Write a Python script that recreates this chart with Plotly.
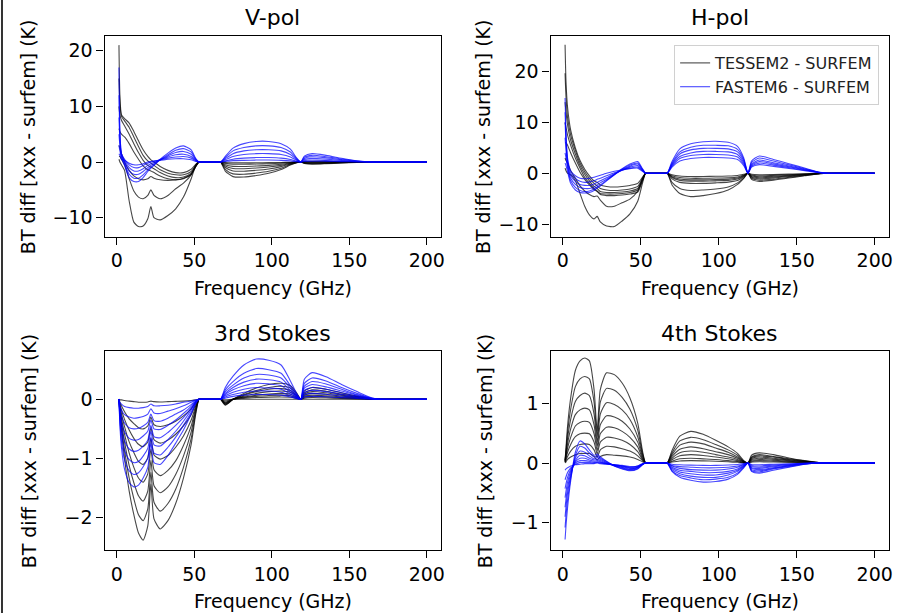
import plotly.graph_objects as go

# ---------------- data ----------------
FREQ = [1.4, 2, 3, 5, 8, 11, 14, 17, 20, 22, 24, 28, 33, 38, 43, 48, 51, 53,
        54, 66,
        67, 70, 75, 82, 90, 98, 106, 112, 116, 118.7,
        121, 126, 135, 145, 155, 165, 170, 200]

PANEL_TITLES = ["V-pol", "H-pol", "3rd Stokes", "4th Stokes"]
X_TICKS = [0, 50, 100, 150, 200]
Y_TICKS = [[-10, 0, 10, 20], [-10, 0, 10, 20], [-2, -1, 0], [-1, 0, 1]]
SERIES_NAMES = ["TESSEM2 - SURFEM", "FASTEM6 - SURFEM"]
X_LABEL = "Frequency (GHz)"
Y_LABEL = "BT diff [xxx - surfem] (K)"

VPOL_TESSEM2 = [
    [21.0, 12.0, 8.5, 7.8, 7.0, 5.5, 3.8, 2.2, 1.0, 0.4, 0.0, -0.8, -1.5, -1.9, -1.9, -1.3, -0.4, 0, 0, 0,
     0, -0.09, -0.15, -0.15, -0.14, -0.11, -0.08, -0.03, -0.01, 0,
     0.1, 0.15, 0.12, 0.07, 0.03, 0, 0, 0],
    [15.0, 10.5, 8.2, 7.4, 6.2, 4.5, 2.8, 1.2, 0.2, -0.2, -0.6, -1.4, -2.0, -2.3, -2.3, -1.7, -0.6, 0, 0, 0,
     0, -0.24, -0.39, -0.4, -0.36, -0.3, -0.2, -0.08, -0.02, 0,
     0.05, 0.08, 0.06, 0.03, 0.01, 0, 0, 0],
    [10.0, 8.5, 7.5, 6.5, 5.0, 3.3, 1.7, 0.3, -0.6, -0.9, -1.2, -1.9, -2.5, -2.8, -2.7, -2.0, -0.7, 0, 0, 0,
     0, -0.48, -0.78, -0.8, -0.72, -0.6, -0.4, -0.16, -0.04, 0,
     -0.05, -0.08, -0.06, -0.03, -0.01, 0, 0, 0],
    [6.0, 5.5, 5.0, 4.5, 3.3, 1.8, 0.5, -0.7, -1.4, -1.6, -1.9, -2.5, -3.0, -3.2, -3.0, -2.2, -0.8, 0, 0, 0,
     0, -0.72, -1.16, -1.2, -1.08, -0.9, -0.6, -0.24, -0.06, 0,
     -0.1, -0.15, -0.12, -0.07, -0.03, 0, 0, 0],
    [3.0, 2.5, 1.5, 0.0, -1.5, -2.5, -3.0, -3.2, -3.0, -2.6, -2.9, -3.2, -3.3, -3.2, -2.9, -2.2, -0.8, 0, 0, 0,
     0, -0.99, -1.6, -1.65, -1.49, -1.24, -0.83, -0.33, -0.08, 0,
     -0.15, -0.22, -0.18, -0.1, -0.04, 0, 0, 0],
    [1.0, 1.0, 0.5, -0.5, -3.0, -5.2, -6.3, -6.6, -6.0, -5.0, -6.0, -6.6, -6.0, -4.8, -3.8, -2.3, -0.5, 0, 0, 0,
     0, -1.32, -2.13, -2.2, -1.98, -1.65, -1.1, -0.44, -0.11, 0,
     -0.2, -0.3, -0.24, -0.14, -0.05, 0, 0, 0],
    [0.5, 0.0, -0.5, -1.5, -7.0, -10.8, -11.6, -11.5, -10.2, -8.0, -10.0, -10.4, -9.6, -8.4, -6.3, -3.0, -0.6, 0, 0, 0,
     0, -1.62, -2.62, -2.7, -2.43, -2.03, -1.35, -0.54, -0.14, 0,
     -0.25, -0.38, -0.3, -0.17, -0.06, 0, 0, 0],
]

VPOL_FASTEM6 = [
    [17.0, 6.0, 1.5, 0.5, -0.5, -1.0, -1.0, -0.6, -0.2, 0.0, 0.1, 0.4, 0.7, 0.9, 1.0, 0.7, 0.2, 0, 0, 0,
     0, 0.2, 0.5, 0.7, 0.8, 0.8, 0.7, 0.45, 0.15, 0,
     0.25, 0.35, 0.28, 0.16, 0.05, 0, 0, 0],
    [12.0, 5.0, 1.5, 0.3, -1.0, -1.6, -1.6, -1.2, -0.6, -0.3, -0.1, 0.4, 0.9, 1.3, 1.4, 1.0, 0.3, 0, 0, 0,
     0, 0.4, 1.0, 1.35, 1.5, 1.5, 1.35, 0.9, 0.3, 0,
     0.45, 0.65, 0.52, 0.3, 0.1, 0, 0, 0],
    [8.0, 4.0, 1.2, 0.0, -1.6, -2.2, -2.2, -1.7, -1.0, -0.6, -0.3, 0.4, 1.1, 1.7, 1.9, 1.4, 0.4, 0, 0, 0,
     0, 0.6, 1.5, 2.0, 2.2, 2.2, 2.0, 1.35, 0.45, 0,
     0.65, 0.95, 0.76, 0.43, 0.14, 0, 0, 0],
    [5.0, 3.0, 1.0, -0.3, -2.2, -2.9, -2.9, -2.3, -1.4, -0.9, -0.5, 0.4, 1.3, 2.1, 2.4, 1.8, 0.5, 0, 0, 0,
     0, 0.8, 2.0, 2.6, 2.9, 2.9, 2.6, 1.8, 0.6, 0,
     0.85, 1.2, 0.96, 0.54, 0.18, 0, 0, 0],
    [3.0, 2.0, 0.8, -0.6, -2.8, -3.5, -3.5, -2.8, -1.7, -1.1, -0.6, 0.5, 1.6, 2.5, 2.9, 2.2, 0.6, 0, 0, 0,
     0, 1.0, 2.5, 3.3, 3.7, 3.7, 3.3, 2.3, 0.75, 0,
     1.05, 1.5, 1.2, 0.68, 0.22, 0, 0, 0],
    [1.5, 1.2, 0.5, 0.3, -0.2, -0.5, -0.5, -0.3, 0.0, 0.1, 0.2, 0.3, 0.5, 0.6, 0.6, 0.4, 0.1, 0, 0, 0,
     0, 0.1, 0.25, 0.3, 0.35, 0.35, 0.3, 0.2, 0.07, 0,
     0.1, 0.15, 0.12, 0.07, 0.02, 0, 0, 0],
]

HPOL_TESSEM2 = [
    [25.3, 18.0, 13.0, 8.5, 5.0, 2.5, 0.8, -0.5, -1.5, -1.8, -2.3, -2.6, -2.7, -2.6, -2.4, -2.0, -0.8, 0, 0, 0,
     0, -0.3, -0.55, -0.65, -0.65, -0.6, -0.55, -0.45, -0.2, 0,
     -0.2, -0.3, -0.25, -0.18, -0.1, -0.02, 0, 0],
    [19.7, 15.0, 11.0, 7.5, 4.5, 2.0, 0.3, -1.0, -2.0, -2.5, -3.0, -3.3, -3.4, -3.3, -3.1, -2.6, -1.0, 0, 0, 0,
     0, -0.5, -0.85, -1.0, -1.0, -0.95, -0.9, -0.75, -0.35, 0,
     -0.35, -0.5, -0.42, -0.3, -0.16, -0.03, 0, 0],
    [14.0, 12.0, 9.5, 6.5, 3.8, 1.5, -0.2, -1.5, -2.6, -3.0, -3.6, -3.8, -3.8, -3.7, -3.5, -3.0, -1.2, 0, 0, 0,
     0, -0.7, -1.15, -1.3, -1.3, -1.25, -1.15, -0.95, -0.45, 0,
     -0.5, -0.7, -0.6, -0.42, -0.22, -0.04, 0, 0],
    [10.0, 9.0, 7.5, 5.5, 3.0, 1.0, -0.8, -2.0, -3.0, -3.5, -4.0, -4.1, -4.1, -4.0, -3.8, -3.3, -1.4, 0, 0, 0,
     0, -0.85, -1.4, -1.55, -1.55, -1.5, -1.4, -1.15, -0.55, 0,
     -0.65, -0.9, -0.76, -0.53, -0.28, -0.05, 0, 0],
    [6.0, 6.0, 5.5, 4.0, 2.0, 0.2, -1.2, -2.3, -3.2, -3.6, -4.2, -4.4, -4.4, -4.3, -4.1, -3.7, -1.6, 0, 0, 0,
     0, -1.1, -1.8, -2.0, -2.0, -1.9, -1.75, -1.45, -0.7, 0,
     -0.8, -1.1, -0.94, -0.66, -0.35, -0.06, 0, 0],
    [3.0, 2.5, 2.0, 0.5, -1.0, -2.5, -3.5, -4.2, -4.6, -4.5, -5.3, -6.5, -6.5, -5.8, -5.1, -3.5, -1.2, 0, 0, 0,
     0, -1.8, -3.0, -3.4, -3.3, -3.1, -2.7, -1.9, -0.9, 0,
     -1.0, -1.35, -1.15, -0.8, -0.42, -0.07, 0, 0],
    [1.0, 0.5, 0.0, -0.3, -1.5, -4.0, -6.5, -8.2, -9.0, -8.5, -9.6, -10.4, -10.5, -9.4, -8.0, -5.5, -2.0, 0, 0, 0,
     0, -2.3, -4.0, -4.6, -4.4, -4.0, -3.3, -2.2, -1.0, 0,
     -1.2, -1.6, -1.35, -0.95, -0.5, -0.08, 0, 0],
]

HPOL_FASTEM6 = [
    [14.8, 8.0, 3.0, 0.5, -0.5, -1.0, -1.1, -1.0, -0.8, -0.6, -0.4, 0.0, 0.4, 0.7, 0.9, 1.0, 0.4, 0, 0, 0,
     0, 1.2, 2.4, 2.9, 3.1, 3.1, 3.0, 2.7, 1.5, 0,
     1.2, 1.7, 1.36, 0.94, 0.51, 0.09, 0, 0],
    [12.0, 7.0, 2.5, 0.0, -1.0, -1.6, -1.8, -1.7, -1.5, -1.2, -1.0, -0.5, 0.1, 0.6, 1.0, 1.2, 0.5, 0, 0, 0,
     0, 1.4, 2.9, 3.5, 3.7, 3.7, 3.6, 3.2, 1.8, 0,
     1.4, 2.0, 1.6, 1.1, 0.6, 0.1, 0, 0],
    [10.0, 6.0, 2.0, -0.5, -1.6, -2.2, -2.4, -2.4, -2.1, -1.8, -1.5, -0.9, -0.1, 0.6, 1.2, 1.5, 0.6, 0, 0, 0,
     0, 1.6, 3.3, 4.0, 4.3, 4.3, 4.2, 3.7, 2.1, 0,
     1.6, 2.3, 1.84, 1.27, 0.69, 0.12, 0, 0],
    [7.0, 4.5, 1.5, -1.0, -2.2, -2.8, -3.0, -3.0, -2.7, -2.3, -1.9, -1.2, -0.2, 0.7, 1.4, 1.8, 0.7, 0, 0, 0,
     0, 1.8, 3.8, 4.6, 4.9, 4.9, 4.8, 4.2, 2.4, 0,
     1.8, 2.6, 2.08, 1.43, 0.78, 0.13, 0, 0],
    [4.0, 3.0, 1.0, -1.5, -2.8, -3.4, -3.6, -3.5, -3.1, -2.7, -2.3, -1.4, -0.3, 0.8, 1.6, 2.0, 0.8, 0, 0, 0,
     0, 2.0, 4.2, 5.1, 5.5, 5.5, 5.4, 4.7, 2.7, 0,
     2.1, 3.0, 2.4, 1.65, 0.9, 0.15, 0, 0],
    [2.0, 1.5, 0.3, -2.0, -3.3, -3.8, -3.9, -3.8, -3.4, -2.9, -2.5, -1.5, -0.3, 0.9, 1.8, 2.3, 0.9, 0, 0, 0,
     0, 2.3, 4.8, 5.8, 6.2, 6.3, 6.1, 5.3, 3.0, 0,
     2.4, 3.4, 2.72, 1.87, 1.02, 0.17, 0, 0],
]

S3_TESSEM2 = [
    [0, -0.24, -0.52, -1.0, -1.55, -1.95, -2.26, -2.38, -2.14, -1.43, -2.02, -2.19, -2.05, -1.76, -1.33, -0.76, -0.24, 0, 0, 0,
     0, -0.1, 0.0, 0.1, 0.19, 0.25, 0.27, 0.23, 0.11, 0,
     0.14, 0.2, 0.17, 0.11, 0.056, 0.01, 0, 0],
    [0, -0.21, -0.45, -0.86, -1.33, -1.68, -1.95, -2.05, -1.85, -1.23, -1.74, -1.89, -1.76, -1.52, -1.15, -0.66, -0.21, 0, 0, 0,
     0, -0.09, 0.0, 0.08, 0.15, 0.2, 0.22, 0.19, 0.09, 0,
     0.11, 0.16, 0.136, 0.088, 0.045, 0.008, 0, 0],
    [0, -0.17, -0.38, -0.72, -1.12, -1.41, -1.63, -1.72, -1.55, -1.03, -1.46, -1.58, -1.48, -1.27, -0.96, -0.55, -0.17, 0, 0, 0,
     0, -0.08, 0.0, 0.07, 0.13, 0.17, 0.18, 0.15, 0.07, 0,
     0.09, 0.13, 0.11, 0.07, 0.036, 0.006, 0, 0],
    [0, -0.14, -0.31, -0.59, -0.91, -1.15, -1.33, -1.4, -1.26, -0.84, -1.19, -1.29, -1.2, -1.04, -0.78, -0.45, -0.14, 0, 0, 0,
     0, -0.07, 0.0, 0.05, 0.1, 0.13, 0.14, 0.12, 0.06, 0,
     0.07, 0.1, 0.085, 0.055, 0.028, 0.005, 0, 0],
    [0, -0.11, -0.24, -0.46, -0.72, -0.9, -1.05, -1.1, -0.99, -0.66, -0.94, -1.01, -0.95, -0.81, -0.62, -0.35, -0.11, 0, 0, 0,
     0, -0.06, 0.0, 0.04, 0.07, 0.09, 0.1, 0.085, 0.04, 0,
     0.05, 0.07, 0.06, 0.04, 0.02, 0.004, 0, 0],
    [0, -0.08, -0.18, -0.34, -0.52, -0.66, -0.76, -0.8, -0.72, -0.48, -0.68, -0.74, -0.69, -0.59, -0.45, -0.26, -0.08, 0, 0, 0,
     0, -0.05, 0.0, 0.03, 0.05, 0.065, 0.07, 0.06, 0.03, 0,
     0.035, 0.05, 0.043, 0.028, 0.014, 0.003, 0, 0],
    [0, -0.05, -0.11, -0.21, -0.33, -0.41, -0.48, -0.5, -0.45, -0.3, -0.43, -0.46, -0.43, -0.37, -0.28, -0.16, -0.05, 0, 0, 0,
     0, -0.03, 0.0, 0.015, 0.03, 0.037, 0.04, 0.034, 0.016, 0,
     0.02, 0.03, 0.025, 0.016, 0.008, 0.002, 0, 0],
    [0, -0.01, -0.01, -0.02, -0.03, -0.04, -0.05, -0.05, -0.045, -0.03, -0.04, -0.045, -0.04, -0.035, -0.03, -0.02, -0.01, 0, 0, 0,
     0, -0.01, 0, 0, 0, 0, 0, 0, 0, 0,
     0, 0, 0, 0, 0, 0, 0, 0],
]

S3_FASTEM6 = [
    [0, -0.44, -0.81, -1.18, -1.41, -1.48, -1.45, -1.33, -1.15, -0.74, -1.07, -1.1, -0.95, -0.74, -0.52, -0.25, -0.07, 0, 0, 0,
     0, 0.2, 0.39, 0.58, 0.68, 0.66, 0.58, 0.31, 0.1, 0,
     0.34, 0.45, 0.38, 0.25, 0.13, 0.02, 0, 0],
    [0, -0.38, -0.7, -1.02, -1.21, -1.27, -1.24, -1.14, -0.99, -0.64, -0.91, -0.94, -0.81, -0.64, -0.44, -0.22, -0.06, 0, 0, 0,
     0, 0.16, 0.3, 0.44, 0.52, 0.5, 0.44, 0.23, 0.08, 0,
     0.27, 0.36, 0.31, 0.2, 0.1, 0.015, 0, 0],
    [0, -0.32, -0.59, -0.86, -1.02, -1.07, -1.05, -0.96, -0.83, -0.54, -0.77, -0.79, -0.68, -0.54, -0.37, -0.18, -0.05, 0, 0, 0,
     0, 0.13, 0.24, 0.36, 0.42, 0.41, 0.36, 0.19, 0.06, 0,
     0.22, 0.3, 0.26, 0.17, 0.08, 0.012, 0, 0],
    [0, -0.26, -0.48, -0.7, -0.84, -0.88, -0.86, -0.79, -0.69, -0.44, -0.63, -0.65, -0.56, -0.44, -0.31, -0.15, -0.04, 0, 0, 0,
     0, 0.1, 0.2, 0.29, 0.34, 0.33, 0.29, 0.15, 0.05, 0,
     0.19, 0.25, 0.21, 0.14, 0.07, 0.01, 0, 0],
    [0, -0.21, -0.38, -0.55, -0.66, -0.69, -0.68, -0.62, -0.54, -0.35, -0.5, -0.51, -0.44, -0.35, -0.24, -0.12, -0.03, 0, 0, 0,
     0, 0.08, 0.16, 0.23, 0.27, 0.26, 0.23, 0.12, 0.04, 0,
     0.15, 0.2, 0.17, 0.11, 0.056, 0.008, 0, 0],
    [0, -0.15, -0.28, -0.4, -0.48, -0.5, -0.49, -0.45, -0.39, -0.25, -0.36, -0.37, -0.32, -0.25, -0.18, -0.09, -0.03, 0, 0, 0,
     0, 0.06, 0.12, 0.17, 0.2, 0.19, 0.17, 0.09, 0.03, 0,
     0.11, 0.15, 0.13, 0.08, 0.04, 0.006, 0, 0],
    [0, -0.1, -0.18, -0.26, -0.3, -0.32, -0.31, -0.29, -0.25, -0.16, -0.23, -0.24, -0.2, -0.16, -0.11, -0.05, -0.02, 0, 0, 0,
     0, 0.04, 0.08, 0.12, 0.14, 0.14, 0.12, 0.06, 0.02, 0,
     0.075, 0.1, 0.085, 0.055, 0.028, 0.004, 0, 0],
    [0, -0.05, -0.08, -0.12, -0.14, -0.15, -0.15, -0.14, -0.12, -0.08, -0.11, -0.11, -0.1, -0.08, -0.05, -0.03, -0.01, 0, 0, 0,
     0, 0.02, 0.05, 0.07, 0.08, 0.08, 0.07, 0.04, 0.01, 0,
     0.04, 0.05, 0.043, 0.028, 0.014, 0.002, 0, 0],
]

S4_TESSEM2 = [
    [0.05, 0.26, 0.62, 1.09, 1.55, 1.71, 1.76, 1.71, 1.23, 0.53, 1.23, 1.51, 1.48, 1.34, 1.09, 0.67, 0.21, 0, 0, 0,
     0, 0.21, 0.45, 0.53, 0.48, 0.38, 0.27, 0.16, 0.04, 0,
     0.13, 0.17, 0.14, 0.085, 0.04, 0.005, 0, 0],
    [0.04, 0.22, 0.51, 0.9, 1.28, 1.41, 1.45, 1.41, 1.02, 0.44, 1.02, 1.25, 1.22, 1.1, 0.9, 0.55, 0.17, 0, 0, 0,
     0, 0.17, 0.37, 0.43, 0.39, 0.31, 0.22, 0.13, 0.03, 0,
     0.1, 0.14, 0.11, 0.07, 0.035, 0.004, 0, 0],
    [0.04, 0.18, 0.41, 0.73, 1.03, 1.13, 1.17, 1.13, 0.82, 0.35, 0.82, 1.01, 0.98, 0.89, 0.73, 0.44, 0.14, 0, 0, 0,
     0, 0.14, 0.3, 0.35, 0.32, 0.25, 0.18, 0.1, 0.03, 0,
     0.09, 0.12, 0.1, 0.06, 0.03, 0.004, 0, 0],
    [0.03, 0.14, 0.32, 0.57, 0.81, 0.89, 0.92, 0.89, 0.64, 0.28, 0.64, 0.79, 0.77, 0.7, 0.57, 0.35, 0.11, 0, 0, 0,
     0, 0.11, 0.23, 0.27, 0.24, 0.19, 0.14, 0.08, 0.02, 0,
     0.075, 0.1, 0.08, 0.05, 0.025, 0.003, 0, 0],
    [0.02, 0.1, 0.25, 0.43, 0.62, 0.68, 0.7, 0.68, 0.49, 0.21, 0.49, 0.6, 0.59, 0.53, 0.43, 0.27, 0.08, 0, 0, 0,
     0, 0.08, 0.17, 0.2, 0.18, 0.14, 0.1, 0.06, 0.016, 0,
     0.06, 0.08, 0.064, 0.04, 0.02, 0.002, 0, 0],
    [0.02, 0.08, 0.18, 0.31, 0.44, 0.49, 0.5, 0.49, 0.35, 0.15, 0.35, 0.43, 0.42, 0.38, 0.31, 0.19, 0.06, 0, 0, 0,
     0, 0.056, 0.12, 0.14, 0.126, 0.1, 0.07, 0.04, 0.01, 0,
     0.045, 0.06, 0.048, 0.03, 0.015, 0.002, 0, 0],
    [0.01, 0.05, 0.11, 0.2, 0.28, 0.31, 0.32, 0.31, 0.22, 0.1, 0.22, 0.28, 0.27, 0.24, 0.2, 0.12, 0.04, 0, 0, 0,
     0, 0.03, 0.07, 0.08, 0.07, 0.06, 0.04, 0.024, 0.006, 0,
     0.03, 0.04, 0.032, 0.02, 0.01, 0.001, 0, 0],
    [0.0, 0.02, 0.06, 0.1, 0.14, 0.16, 0.16, 0.16, 0.11, 0.05, 0.11, 0.14, 0.13, 0.12, 0.1, 0.06, 0.02, 0, 0, 0,
     0, 0.016, 0.034, 0.04, 0.036, 0.03, 0.02, 0.012, 0.003, 0,
     0.015, 0.02, 0.016, 0.01, 0.005, 0, 0, 0],
]

S4_FASTEM6 = [
    [-1.28, -1.05, -0.75, -0.3, 0.18, 0.37, 0.32, 0.22, 0.13, 0.15, 0.1, 0.03, -0.05, -0.1, -0.13, -0.1, -0.03, 0, 0, 0,
     0, -0.14, -0.24, -0.29, -0.32, -0.31, -0.27, -0.19, -0.08, 0,
     -0.14, -0.17, -0.12, -0.07, -0.02, 0, 0, 0],
    [-1.08, -0.88, -0.62, -0.26, 0.12, 0.28, 0.25, 0.17, 0.1, 0.12, 0.08, 0.02, -0.05, -0.09, -0.12, -0.09, -0.03, 0, 0, 0,
     0, -0.13, -0.21, -0.25, -0.28, -0.27, -0.24, -0.17, -0.07, 0,
     -0.13, -0.15, -0.1, -0.06, -0.018, 0, 0, 0],
    [-0.9, -0.73, -0.5, -0.22, 0.08, 0.2, 0.18, 0.12, 0.07, 0.09, 0.06, 0.01, -0.04, -0.08, -0.11, -0.08, -0.02, 0, 0, 0,
     0, -0.11, -0.18, -0.22, -0.24, -0.24, -0.2, -0.14, -0.06, 0,
     -0.11, -0.13, -0.09, -0.05, -0.016, 0, 0, 0],
    [-0.74, -0.6, -0.41, -0.18, 0.04, 0.13, 0.12, 0.08, 0.05, 0.06, 0.04, 0.0, -0.04, -0.07, -0.1, -0.07, -0.02, 0, 0, 0,
     0, -0.09, -0.15, -0.18, -0.2, -0.2, -0.17, -0.12, -0.05, 0,
     -0.09, -0.11, -0.08, -0.044, -0.013, 0, 0, 0],
    [-0.58, -0.47, -0.32, -0.14, 0.02, 0.08, 0.08, 0.05, 0.03, 0.04, 0.02, -0.01, -0.04, -0.06, -0.09, -0.07, -0.02, 0, 0, 0,
     0, -0.07, -0.12, -0.14, -0.16, -0.16, -0.14, -0.1, -0.04, 0,
     -0.08, -0.09, -0.063, -0.036, -0.011, 0, 0, 0],
    [-0.43, -0.35, -0.24, -0.11, 0.0, 0.04, 0.04, 0.03, 0.01, 0.02, 0.01, -0.01, -0.03, -0.05, -0.08, -0.06, -0.02, 0, 0, 0,
     0, -0.05, -0.09, -0.11, -0.12, -0.12, -0.1, -0.07, -0.03, 0,
     -0.06, -0.07, -0.05, -0.028, -0.008, 0, 0, 0],
    [-0.28, -0.23, -0.16, -0.08, -0.02, 0.01, 0.01, 0.01, 0.0, 0.01, 0.0, -0.01, -0.03, -0.05, -0.07, -0.05, -0.02, 0, 0, 0,
     0, -0.04, -0.06, -0.07, -0.08, -0.08, -0.07, -0.05, -0.02, 0,
     -0.04, -0.05, -0.035, -0.02, -0.006, 0, 0, 0],
    [-0.12, -0.1, -0.08, -0.05, -0.03, -0.02, -0.01, -0.01, -0.01, 0.0, -0.01, -0.02, -0.03, -0.04, -0.06, -0.05, -0.01, 0, 0, 0,
     0, -0.02, -0.03, -0.036, -0.04, -0.04, -0.034, -0.024, -0.01, 0,
     -0.025, -0.03, -0.021, -0.012, -0.004, 0, 0, 0],
]

PANELS = [
    (VPOL_TESSEM2, VPOL_FASTEM6),
    (HPOL_TESSEM2, HPOL_FASTEM6),
    (S3_TESSEM2, S3_FASTEM6),
    (S4_TESSEM2, S4_FASTEM6),
]

# ---------------- layout geometry (pixels) ----------------
W, H = 910, 613
BOXES = [  # x0, x1, y0(top), y1(bottom)
    (105, 443, 36, 236.5),
    (553, 893, 36, 236.5),
    (105, 443, 351, 550),
    (553, 893, 351, 550),
]
Y_RANGES = [(-13.38, 22.64), (-12.46, 27.03), (-2.546, 0.816), (-1.457, 1.876)]
X_RANGE = (-7.9, 209.2)
YLABEL_OFFSET = [77, 68, 76, 66]

FONT = "DejaVu Sans"
BLACK = "rgba(0,0,0,0.72)"
BLUE = "rgba(0,0,255,0.72)"

fig = go.Figure()

for i, (tess, fast) in enumerate(PANELS):
    n = i + 1
    xr = "x" if n == 1 else f"x{n}"
    yr = "y" if n == 1 else f"y{n}"
    for j, curve in enumerate(tess):
        fig.add_trace(go.Scatter(
            x=FREQ, y=curve, mode="lines", xaxis=xr, yaxis=yr,
            line=dict(color=BLACK, width=1.1, shape="spline", smoothing=0.6),
            name=SERIES_NAMES[0],
            showlegend=(i == 1 and j == 0), hoverinfo="skip"))
    for j, curve in enumerate(fast):
        fig.add_trace(go.Scatter(
            x=FREQ, y=curve, mode="lines", xaxis=xr, yaxis=yr,
            line=dict(color=BLUE, width=1.1, shape="spline", smoothing=0.6),
            name=SERIES_NAMES[1],
            showlegend=(i == 1 and j == 0), hoverinfo="skip"))

annotations = []
layout = {}
for i, (x0, x1, y0, y1) in enumerate(BOXES):
    n = i + 1
    xk = "xaxis" if n == 1 else f"xaxis{n}"
    yk = "yaxis" if n == 1 else f"yaxis{n}"
    common = dict(showline=True, mirror=True, linecolor="black", linewidth=1.2,
                  ticks="outside", ticklen=7, tickwidth=1.2, tickcolor="black",
                  showgrid=False, zeroline=False,
                  tickfont=dict(family=FONT, size=19, color="black"))
    layout[xk] = dict(domain=[x0 / W, x1 / W], anchor="y" if n == 1 else f"y{n}",
                      range=list(X_RANGE), tickvals=X_TICKS, **common)
    layout[yk] = dict(domain=[1 - y1 / H, 1 - y0 / H], anchor="x" if n == 1 else f"x{n}",
                      range=list(Y_RANGES[i]), tickvals=Y_TICKS[i], **common)
    cx = (x0 + x1) / 2
    annotations.append(dict(text=PANEL_TITLES[i], x=cx / W, y=1 - (y0 - 18) / H,
                            xref="paper", yref="paper", showarrow=False,
                            xanchor="center", yanchor="middle",
                            font=dict(family=FONT, size=22, color="black")))
    annotations.append(dict(text=X_LABEL, x=cx / W, y=1 - (y1 + 51) / H,
                            xref="paper", yref="paper", showarrow=False,
                            xanchor="center", yanchor="middle",
                            font=dict(family=FONT, size=19, color="black")))
    annotations.append(dict(text=Y_LABEL, x=(x0 - YLABEL_OFFSET[i]) / W,
                            y=1 - ((y0 + y1) / 2) / H,
                            xref="paper", yref="paper", showarrow=False,
                            xanchor="center", yanchor="middle", textangle=-90,
                            font=dict(family=FONT, size=19, color="black")))

fig.update_layout(
    width=W, height=H,
    margin=dict(l=0, r=0, t=0, b=0),
    paper_bgcolor="white", plot_bgcolor="white",
    font=dict(family=FONT, color="black"),
    annotations=annotations,
    legend=dict(x=883 / W, y=1 - 45 / H, xanchor="right", yanchor="top",
                bgcolor="rgba(255,255,255,0.85)", bordercolor="#d0d0d0", borderwidth=1,
                tracegroupgap=0, itemwidth=30,
                font=dict(family=FONT, size=16, color="#222")),
    shapes=[dict(type="line", xref="paper", yref="paper",
                 x0=2 / W, x1=2 / W, y0=0, y1=1,
                 line=dict(color="#333333", width=2))],
    **layout,
)

fig.write_html("out.html")
